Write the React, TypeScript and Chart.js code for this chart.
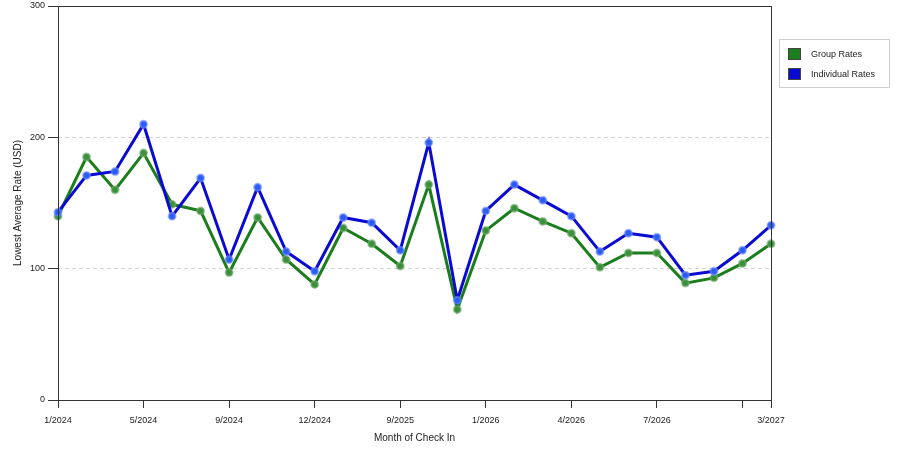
import { useEffect, useRef } from "react";
import { Chart, registerables } from "chart.js";

Chart.register(...registerables);

// categories (only every third month is labelled on the axis)
const months = [
  "1/2024", "2/2024", "4/2024", "5/2024", "6/2024", "8/2024", "9/2024", "10/2024", "11/2024",
  "12/2024", "3/2025", "6/2025", "9/2025", "10/2025", "12/2025", "1/2026", "2/2026", "3/2026",
  "4/2026", "5/2026", "6/2026", "7/2026", "8/2026", "10/2026", "12/2026", "3/2027",
];

const groupRates = [
  140, 185, 160, 188, 149, 144, 97, 139, 107, 88, 131, 119, 102, 164, 69, 129, 146, 136, 127,
  101, 112, 112, 89, 93, 104, 119,
];

const individualRates = [
  143, 171, 174, 210, 140, 169, 107, 162, 113, 98, 139, 135, 114, 196, 76, 144, 164, 152, 140,
  113, 127, 124, 95, 98, 114, 133,
];

const tickIndexes = [0, 3, 6, 9, 12, 15, 18, 21, 24, 25];
const unlabelledTicks = [24];
const yTicks = [0, 100, 200, 300];

const seriesNames = ["Group Rates", "Individual Rates"];
const lineColors = ["#1b7d1b", "#0a0ad2"];

const FONT = "'Liberation Sans', Arial, sans-serif";

const framePlugin = {
  id: "frameAndLegend",
  afterDraw(chart: Chart) {
    const { ctx, chartArea } = chart;
    ctx.save();
    ctx.strokeStyle = "#333";
    ctx.lineWidth = 1;
    ctx.strokeRect(
      Math.round(chartArea.left) + 0.5,
      Math.round(chartArea.top) + 0.5,
      Math.round(chartArea.right - chartArea.left),
      Math.round(chartArea.bottom - chartArea.top)
    );

    // legend box
    const lx = 779.5;
    const ly = 39.5;
    ctx.strokeStyle = "#d0d0d0";
    ctx.strokeRect(lx, ly, 110, 48);
    ctx.font = `9px ${FONT}`;
    ctx.textBaseline = "middle";
    seriesNames.forEach((name, i) => {
      const sy = 48 + i * 20;
      ctx.fillStyle = lineColors[i];
      ctx.fillRect(788, sy, 13, 12);
      ctx.strokeStyle = "#444";
      ctx.strokeRect(788.5, sy + 0.5, 12, 11);
      ctx.fillStyle = "#222";
      ctx.fillText(name, 811, sy + 6.5);
    });
    ctx.restore();
  },
};

export default function App() {
  const canvasRef = useRef<HTMLCanvasElement>(null);
  const chartRef = useRef<Chart | null>(null);

  useEffect(() => {
    if (!canvasRef.current) return;
    if (chartRef.current) chartRef.current.destroy();

    chartRef.current = new Chart(canvasRef.current, {
      type: "line",
      data: {
        labels: months,
        datasets: [
          {
            label: seriesNames[0],
            data: groupRates,
            borderColor: lineColors[0],
            borderWidth: 3,
            pointRadius: 3.5,
            pointBackgroundColor: "#3a8f3a",
            pointBorderColor: "rgba(110,170,110,0.6)",
            pointBorderWidth: 2,
            tension: 0,
            order: 2,
          },
          {
            label: seriesNames[1],
            data: individualRates,
            borderColor: lineColors[1],
            borderWidth: 3,
            pointRadius: 3.5,
            pointBackgroundColor: "#2a5cf0",
            pointBorderColor: "rgba(110,140,255,0.6)",
            pointBorderWidth: 2,
            tension: 0,
            order: 1,
          },
        ],
      },
      options: {
        responsive: false,
        animation: false,
        devicePixelRatio: 1,
        layout: { padding: { left: 0, right: 129, top: 5, bottom: 0 } },
        plugins: {
          legend: { display: false },
          tooltip: { enabled: false },
        },
        scales: {
          x: {
            type: "category",
            offset: false,
            afterBuildTicks: (scale: any) => {
              scale.ticks = tickIndexes.map((v) => ({ value: v }));
            },
            afterFit: (scale: any) => {
              scale.height = 50;
              scale.paddingLeft = 0;
              scale.paddingRight = 0;
            },
            ticks: {
              autoSkip: false,
              maxRotation: 0,
              padding: 7,
              color: "#222",
              font: { family: FONT, size: 9 },
              callback: function (this: any, value: any) {
                if (unlabelledTicks.includes(value)) return "";
                return months[value];
              },
            },
            grid: {
              drawOnChartArea: false,
              tickLength: 8,
              tickColor: "#333",
            },
            border: { display: false },
            title: {
              display: true,
              text: "Month of Check In",
              color: "#222",
              font: { family: FONT, size: 10 },
              padding: { top: 0, bottom: 6 },
            },
          },
          y: {
            min: 0,
            max: 300,
            afterBuildTicks: (scale: any) => {
              scale.ticks = yTicks.map((v) => ({ value: v }));
            },
            afterFit: (scale: any) => {
              scale.width = 58;
              scale.paddingTop = 0;
              scale.paddingBottom = 0;
            },
            ticks: {
              padding: 3,
              color: "#222",
              font: { family: FONT, size: 9 },
            },
            grid: {
              color: (ctx: any) =>
                ctx.tick && ctx.tick.value > 0 && ctx.tick.value < 300 ? "#d4d4d4" : "rgba(0,0,0,0)",
              tickColor: "#333",
              tickLength: 10,
            },
            border: { display: false, dash: [4, 3] },
            title: {
              display: true,
              text: "Lowest Average Rate (USD)",
              color: "#222",
              font: { family: FONT, size: 10 },
              padding: { top: 12, bottom: 0 },
            },
          },
        },
      },
      plugins: [framePlugin],
    });

    return () => {
      if (chartRef.current) chartRef.current.destroy();
      chartRef.current = null;
    };
  }, []);

  return (
    <div style={{ position: "absolute", left: 0, top: 0, width: 900, height: 450, background: "#fff" }}>
      <canvas ref={canvasRef} width={900} height={450} />
    </div>
  );
}
